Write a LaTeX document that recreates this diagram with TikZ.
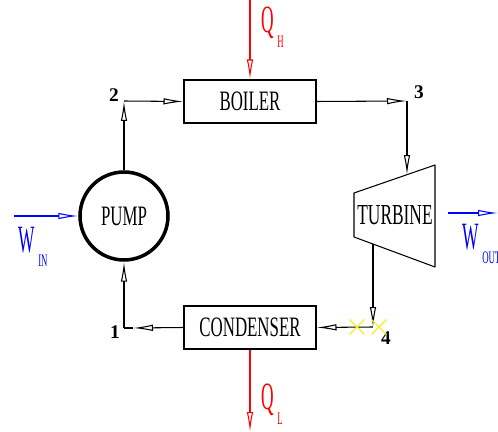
\documentclass[tikz,border=0pt]{standalone}
\usepackage{fontspec}
\setmainfont{Liberation Serif}
\usetikzlibrary{arrows.meta, positioning, calc, shapes.misc}
\definecolor{heatred}{RGB}{255,0,0}
\definecolor{workblue}{RGB}{0,0,255}
\definecolor{markyellow}{RGB}{240,240,40}
\newcommand{\narrowtxt}[1]{\scalebox{0.6}[1]{#1}}
\newcommand{\sublabel}[2]{\scalebox{0.45}[1]{#1}\hspace{2pt}\raisebox{-0.8ex}{\fontsize{10}{10}\selectfont\scalebox{0.5}[1]{#2}}}

\begin{document}
\begin{tikzpicture}[
  x=0.02cm, y=-0.02cm,
  unit/.style={
    rectangle, draw, line width=0.6pt, minimum width=2.64cm,
    minimum height=0.86cm, inner sep=0pt, font=\fontsize{16}{16}\selectfont
  },
  pumpunit/.style={
    circle, draw, line width=2pt, minimum size=1.76cm,
    inner sep=0pt, font=\fontsize{16}{16}\selectfont
  },
  pipe/.style={line width=0.6pt, line join=round},
  flow/.style={pipe, -{Latex[open, length=4mm, width=1.3mm]}},
  heat/.style={flow, heatred},
  work/.style={flow, workblue},
  state/.style={font=\fontsize{11}{11}\selectfont\bfseries},
  qlabel/.style={font=\fontsize{22}{22}\selectfont, inner sep=0pt, anchor=north west},
  crossmark/.style={cross out, draw=markyellow, line width=0.7pt, minimum size=0.28cm}
]
\useasboundingbox (0,0) rectangle (498,432);

% Components
\node[unit] (boiler) at (250,101.5) {\narrowtxt{BOILER}};
\node[unit] (condenser) at (250,327.5) {\narrowtxt{CONDENSER}};
\node[pumpunit] (pump) at (124,216) {\narrowtxt{PUMP}};
\draw[pipe] (354,193) -- (435,165) -- (435,267) -- (354,237) -- cycle;
\node[font=\fontsize{16.5}{16.5}\selectfont] (turbine) at (395,215) {\narrowtxt{TURBINE}};

% State points
\coordinate (p1) at (124,328);
\coordinate (p1a) at (133,328);
\coordinate (p2) at (124,101);
\coordinate (p3) at (407,101);
\coordinate (p4) at (373,327);
\coordinate (tin) at (407,175);
\coordinate (tout) at (373,244);
\node[state] (s1) at (115,332) {1};
\node[state] (s2) at (114,95) {2};
\node[state] (s3) at (419,92) {3};
\node[state] (s4) at (386,338) {4};

% Cycle
\draw[flow] (pump.north) -- (p2);
\draw[flow] (p2) -- (boiler.west);
\draw[flow] (boiler.east) -- (p3);
\draw[flow] (p3) -- (tin);
\draw[flow] (tout) -- (p4);
\draw[flow] (p4) -- (condenser.east);
\draw[flow] (condenser.west) -- (p1a);
\draw[pipe] (p1a) -- (p1);
\draw[flow] (p1) -- (pump.south);

% Markers near 4
\node[crossmark] (x1) at (357,327) {};
\node[crossmark] (x2) at (379,327) {};

% Heat and work
\coordinate (qhin) at (250,0);
\coordinate (qlout) at (250,432);
\coordinate (win) at (14,216);
\coordinate (wstart) at (448,213);
\coordinate (wout) at (498,213);
\draw[heat] (qhin) -- (boiler.north);
\draw[heat] (condenser.south) -- (qlout);
\draw[work] (win) -- (pump.west);
\draw[work] (wstart) -- (wout);
\node[qlabel, text=heatred] (qh) at (261,7) {\sublabel{Q}{H}};
\node[qlabel, text=heatred] (ql) at (261,384) {\sublabel{Q}{L}};
\node[qlabel, text=workblue] (wi) at (18,227) {\sublabel{W}{IN}};
\node[qlabel, text=workblue] (wo) at (462,224) {\sublabel{W}{OUT}};

\end{tikzpicture}
\end{document}
